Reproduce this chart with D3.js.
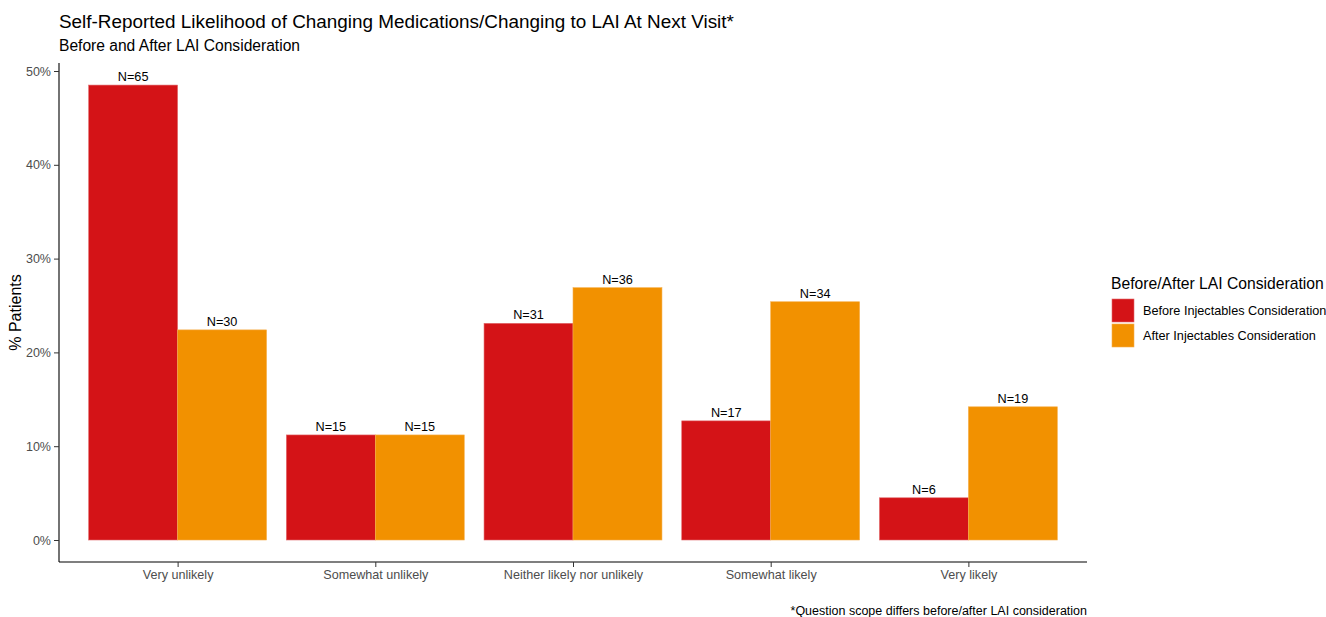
<!DOCTYPE html>
<html>
<head>
<meta charset="utf-8">
<script src="https://cdn.jsdelivr.net/npm/d3@7"></script>
<style>
  body { margin: 0; background: #fff; }
  svg { font-family: "Liberation Sans", Arial, sans-serif; }
</style>
</head>
<body>
<div id="wrapper"></div>
<script>
// # Data
const categories = ["Very unlikely", "Somewhat unlikely", "Neither likely nor unlikely", "Somewhat likely", "Very likely"];
const seriesNames = ["Before Injectables Consideration", "After Injectables Consideration"];
const beforePct = [48.5, 11.2, 23.1, 12.7, 4.5];
const afterPct = [22.4, 11.2, 26.9, 25.4, 14.2];
const beforeN = [65, 15, 31, 17, 6];
const afterN = [30, 15, 36, 34, 19];
const yTicks = [0, 10, 20, 30, 40, 50];
const colors = ["#d41317", "#f29100"];

const dimensions = {
  width: 1326,
  height: 617,
  margin: { top: 63, right: 239, bottom: 55, left: 59 },
};
dimensions.boundedWidth = dimensions.width - dimensions.margin.left - dimensions.margin.right;
dimensions.boundedHeight = dimensions.height - dimensions.margin.top - dimensions.margin.bottom;

const rows = categories.map((c, i) => ({
  category: c,
  values: [
    { key: seriesNames[0], pct: beforePct[i], n: beforeN[i] },
    { key: seriesNames[1], pct: afterPct[i], n: afterN[i] },
  ],
}));

// # Canvas
const svg = d3.select("#wrapper").append("svg")
  .attr("width", dimensions.width)
  .attr("height", dimensions.height);

const bounds = svg.append("g")
  .attr("transform", `translate(${dimensions.margin.left},${dimensions.margin.top})`);

// # Scales
// ggplot style: 0.6 unit expansion on each side, bar group width 0.9
const xScale = d3.scalePoint()
  .domain(categories)
  .range([0, dimensions.boundedWidth])
  .padding(0.6);
const step = xScale.step();
const groupWidth = step * 0.9;

const xInner = d3.scaleBand()
  .domain(seriesNames)
  .range([-groupWidth / 2, groupWidth / 2]);

const yScale = d3.scaleLinear()
  .domain([0, 50])
  .range([540 - dimensions.margin.top, 71 - dimensions.margin.top]);

// # Bars
const groups = bounds.selectAll(".grp")
  .data(rows)
  .join("g")
  .attr("class", "grp")
  .attr("transform", d => `translate(${xScale(d.category)},0)`);

groups.selectAll("rect")
  .data(d => d.values)
  .join("rect")
  .attr("x", d => xInner(d.key))
  .attr("y", d => yScale(d.pct))
  .attr("width", xInner.bandwidth())
  .attr("height", d => yScale(0) - yScale(d.pct))
  .attr("fill", (d, i) => colors[i])
  .attr("stroke", (d, i) => i === 0 ? "#e26a6c" : "#f6b04d")
  .attr("stroke-width", 0.6);

groups.selectAll("text")
  .data(d => d.values)
  .join("text")
  .attr("x", d => xInner(d.key) + xInner.bandwidth() / 2)
  .attr("y", d => yScale(d.pct) - 4)
  .attr("text-anchor", "middle")
  .style("font-size", "12.7px")
  .attr("fill", "#000")
  .text(d => `N=${d.n}`);

// # Axes
const yAxis = bounds.append("g")
  .call(d3.axisLeft(yScale).tickValues(yTicks).tickFormat(d => d + "%").tickSize(5).tickPadding(3));
yAxis.select(".domain").attr("d", `M0,0V${dimensions.boundedHeight}`).attr("stroke", "#000").attr("stroke-width", 1.1);
yAxis.selectAll(".tick line").attr("stroke", "#333");
yAxis.selectAll(".tick text").style("font-size", "12.5px").attr("fill", "#4d4d4d");

const xAxis = bounds.append("g")
  .attr("transform", `translate(0,${dimensions.boundedHeight})`)
  .call(d3.axisBottom(xScale).tickSize(5).tickPadding(3));
xAxis.select(".domain").attr("d", `M0,0H${dimensions.boundedWidth}`).attr("stroke", "#000").attr("stroke-width", 1.1);
xAxis.selectAll(".tick line").attr("stroke", "#333");
xAxis.selectAll(".tick text").style("font-size", "12.6px").attr("fill", "#4d4d4d");

// # Labels
svg.append("text")
  .attr("transform", `translate(21,${dimensions.margin.top + dimensions.boundedHeight / 2}) rotate(-90)`)
  .attr("text-anchor", "middle")
  .style("font-size", "16px")
  .text("% Patients");

svg.append("text")
  .attr("x", 59).attr("y", 28)
  .style("font-size", "18.9px")
  .text("Self-Reported Likelihood of Changing Medications/Changing to LAI At Next Visit*");

svg.append("text")
  .attr("x", 59).attr("y", 51)
  .style("font-size", "15.6px")
  .text("Before and After LAI Consideration");

svg.append("text")
  .attr("x", dimensions.margin.left + dimensions.boundedWidth).attr("y", 615)
  .attr("text-anchor", "end")
  .style("font-size", "12.5px")
  .text("*Question scope differs before/after LAI consideration");

// # Legend
const legend = svg.append("g").attr("transform", "translate(1111,0)");
legend.append("text")
  .attr("x", 0).attr("y", 289)
  .style("font-size", "15.7px")
  .text("Before/After LAI Consideration");

const items = legend.selectAll(".item")
  .data(seriesNames)
  .join("g")
  .attr("class", "item")
  .attr("transform", (d, i) => `translate(0,${299 + i * 25})`);
items.append("rect")
  .attr("x", 1).attr("y", 0)
  .attr("width", 22).attr("height", 23)
  .attr("fill", (d, i) => colors[i])
  .attr("stroke", (d, i) => i === 0 ? "#e26a6c" : "#f6b04d")
  .attr("stroke-width", 0.6);
items.append("text")
  .attr("x", 32).attr("y", 16)
  .style("font-size", "12.7px")
  .text(d => d);
</script>
</body>
</html>
